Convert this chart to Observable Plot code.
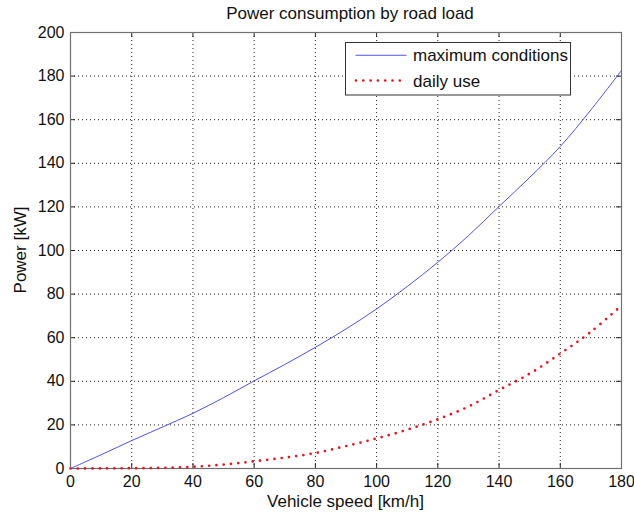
<!DOCTYPE html>
<html><head><meta charset="utf-8">
<script src="https://cdn.jsdelivr.net/npm/d3@7"></script>
<script src="https://cdn.jsdelivr.net/npm/@observablehq/plot@0.6"></script>
<style>body{margin:0;background:#fff} svg{display:block}</style>
</head><body><div id="chart"></div>
<script>
// ---- data ----
const speed = [0,10,20,30,40,50,60,70,80,90,100,110,120,130,140,150,160,170,180];
const maxPower = [0,6.3,12.8,19,25.3,32.5,40.2,47.7,55.6,64,73.2,83.5,94.6,106.8,120.2,133.5,147.7,164.5,182.6];
const dailyPower = [0,0.05,0.15,0.3,0.8,1.8,3.3,5,7.1,10.3,13.8,17.8,22.6,28.4,36,43.5,52.7,62.7,74.8];
const xTicks = [0,20,40,60,80,100,120,140,160,180];
const yTicks = [0,20,40,60,80,100,120,140,160,180,200];
const seriesNames = ["maximum conditions","daily use"];
const titleText = "Power consumption by road load";
const xLabel = "Vehicle speed [km/h]";
const yLabel = "Power [kW]";

// ---- layout ----
const W = 634, H = 513, mL = 70, mR = 13, mT = 32, mB = 45;
const pW = W - mL - mR, pH = H - mT - mB;
const blue = "#5050f2", red = "#e8141c";
const font = "'Liberation Sans', Arial, sans-serif";

const chart = Plot.plot({
  width: W, height: H,
  marginLeft: mL, marginRight: mR, marginTop: mT, marginBottom: mB,
  style: {fontFamily: font, fontSize: "16px", color: "#111", background: "#fff"},
  x: {domain: [0,180], ticks: xTicks, tickSize: 0, tickPadding: 7, label: null, tickFormat: d => String(d)},
  y: {domain: [0,200], ticks: yTicks, tickSize: 0, tickPadding: 6, label: null, tickFormat: d => String(d)},
  marks: [
    Plot.ruleX(xTicks, {x: d => d, stroke: "#222", strokeDasharray: "1 3", strokeWidth: 1}),
    Plot.ruleY(yTicks, {y: d => d, stroke: "#222", strokeDasharray: "1 3", strokeWidth: 1}),
    Plot.tickX(xTicks, {x: d => d, insetTop: pH - 5, stroke: "#222"}),
    Plot.tickX(xTicks, {x: d => d, insetBottom: pH - 5, stroke: "#222"}),
    Plot.tickY(yTicks, {y: d => d, insetRight: pW - 5, stroke: "#222"}),
    Plot.tickY(yTicks, {y: d => d, insetLeft: pW - 5, stroke: "#222"}),
    Plot.frame({stroke: "#707070", strokeWidth: 1.2}),
    Plot.line(speed, {x: d => d, y: (d, i) => maxPower[i], stroke: blue, strokeWidth: 1, curve: "catmull-rom"}),
    Plot.line(speed, {x: d => d, y: (d, i) => dailyPower[i], stroke: red, strokeWidth: 2.7,
      strokeDasharray: "0 7.3", strokeLinecap: "round", curve: "catmull-rom"})
  ]
});
document.getElementById("chart").appendChild(chart);

const svg = d3.select(chart);
const txt = (x, y, s, size, anchor = "middle") => svg.append("text")
  .attr("x", x).attr("y", y).attr("text-anchor", anchor)
  .attr("font-family", font).attr("font-size", size).attr("fill", "#111").text(s);

txt(350, 19, titleText, 17);
txt(mL + pW / 2, 507, xLabel, 17);
svg.append("text").attr("transform", `translate(26,${mT + pH / 2}) rotate(-90)`)
  .attr("text-anchor", "middle").attr("font-family", font).attr("font-size", 17)
  .attr("fill", "#111").text(yLabel);

// legend
const lg = svg.append("g");
lg.append("rect").attr("x", 345.5).attr("y", 42.5).attr("width", 225).attr("height", 52.5)
  .attr("fill", "#fff").attr("stroke", "#333").attr("stroke-width", 1);
const rows = [{y: 55.2, color: blue, w: 1.1, dash: null}, {y: 80.5, color: red, w: 2.7, dash: "0 7.3"}];
rows.forEach((r, i) => {
  const l = lg.append("path").attr("d", `M356,${r.y}L406,${r.y}`)
    .attr("fill", "none").style("stroke", r.color).style("stroke-width", r.w)
    .style("stroke-linecap", "round");
  if (r.dash) l.style("stroke-dasharray", r.dash);
  txt(413, r.y + 6, seriesNames[i], 17, "start");
});
</script></body></html>
